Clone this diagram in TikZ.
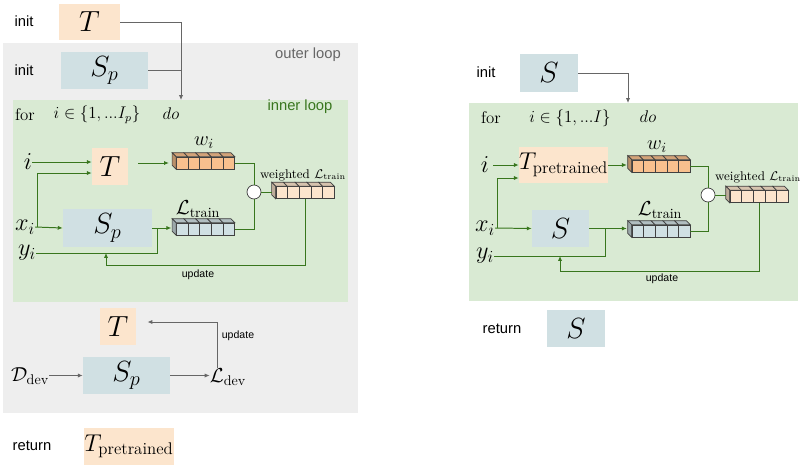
\documentclass[tikz,border=0pt]{standalone}
\usepackage{amsmath}
\usepackage{fontspec}
\setsansfont{Liberation Sans}
\usepackage{tikz}
\usetikzlibrary{positioning,calc,arrows.meta}

\definecolor{tpeach}{HTML}{FCE5CD}
\definecolor{sblue}{HTML}{D0E0E3}
\definecolor{innerbg}{HTML}{D9EAD3}
\definecolor{outerbg}{HTML}{EEEEEE}
\definecolor{lgreen}{HTML}{38761D}
\definecolor{kgrey}{HTML}{666666}
\definecolor{torange}{HTML}{F8C08E}
\definecolor{tedge}{HTML}{404040}

\tikzset{
  box/.style={inner sep=0pt, minimum height=0.925cm},
  tbox/.style={box, fill=tpeach},
  sbox/.style={box, fill=sblue},
  gline/.style={draw=lgreen, line width=0.7pt},
  garrow/.style={gline, -{Latex[length=3.5pt,width=3pt]}},
  kline/.style={draw=kgrey, line width=0.6pt},
  karrow/.style={kline, -{Latex[length=3.5pt,width=3pt]}},
  tensor/.style={draw=tedge, line width=0.5pt, minimum width=1.45cm,
    minimum height=0.3cm, inner sep=0pt},
  mulnode/.style={circle, draw=tedge, fill=white, line width=0.5pt,
    minimum size=0.35cm, inner sep=0pt},
  sanslabel/.style={font=\sffamily\fontsize{10.5}{12}\selectfont},
  updatelabel/.style={font=\sffamily\fontsize{7.5}{9}\selectfont},
  looplabel/.style={font=\sffamily\fontsize{10.5}{12}\selectfont},
  mathlabel/.style={font=\LARGE, inner sep=0pt},
}

% top and left faces of a tensor drawn as a row of cells
\newcommand\tensorfaces[2]{%
  \foreach \k [evaluate=\k as \ka using \k/5, evaluate=\k as \kb using (\k+1)/5] in {0,...,4}{%
    \filldraw[draw=tedge, line width=0.5pt, fill=#2!85!black]
      ($(#1.north west)!\ka!(#1.north east)$) -- ++(-4,-4)
      -- ($(#1.north west)!\kb!(#1.north east)+(-4,-4)$)
      -- ($(#1.north west)!\kb!(#1.north east)$) -- cycle;
    \draw[draw=tedge, line width=0.5pt]
      ($(#1.south west)!\ka!(#1.south east)$) -- ($(#1.north west)!\ka!(#1.north east)$);
  }%
  \filldraw[draw=tedge, line width=0.5pt, fill=#2!75!black]
    (#1.north west) -- ++(-4,-4) -- ($(#1.south west)+(-4,-4)$) -- (#1.south west) -- cycle;
}

\begin{document}
\begin{tikzpicture}[x=0.025cm, y=-0.025cm]
  \useasboundingbox (0,0) rectangle (800,467);

  % left: outer and inner loop
  \fill[outerbg] (3,43) rectangle (358,413);
  \fill[innerbg] (13,100) rectangle (348,302);
  \node[sanslabel] (initTL) at (24,21) {init};
  \node[tbox, minimum width=1.525cm, minimum height=0.9cm] (Tinit) at (89.5,22) {\huge$T$};
  \node[looplabel, text=kgrey] (outerlbl) at (308,55) {outer loop};
  \node[sanslabel] (initSL) at (24,70) {init};
  \node[sbox, minimum width=2.175cm] (Spinit) at (104.5,70.5) {\huge$S_p$};
  \coordinate (inL) at (181,100);
  \draw[karrow] (Tinit.east) -| (inL);
  \draw[kline] (Spinit.east) -- (Spinit.east -| inL);

  \node[looplabel, text=lgreen] (innerlblL) at (300,107) {inner loop};
  \node (forL) at (25,115) {\large for};
  \node (rangeL) at (97,115) {\large$i \in \{1, ...I_p\}$};
  \node (doL) at (171,114) {\large$do$};

  \node[mathlabel] (iL) at (28,162) {$i$};
  \node[mathlabel] (xiL) at (25,227) {$x_i$};
  \node[mathlabel] (yiL) at (27,253) {$y_i$};
  \node[tbox, minimum width=0.9cm] (TL) at (110,166.5) {\huge$T$};
  \node[sbox, minimum width=2.225cm, minimum height=0.95cm] (SpL) at (107.5,228) {\huge$S_p$};
  \node[tensor, fill=torange] (wL) at (205.5,163) {};
  \tensorfaces{wL}{torange}
  \node[font=\Large] (wlblL) at (204,143) {$w_i$};
  \node[tensor, fill=sblue] (LtL) at (205.5,229) {};
  \tensorfaces{LtL}{sblue}
  \node[font=\Large] (LtlblL) at (198,209) {$\mathcal{L}_{\text{train}}$};
  \node[mulnode] (mulL) at (254,192) {};
  \node[tensor, fill=tpeach] (wtL) at (305,192.5) {};
  \tensorfaces{wtL}{tpeach}
  \node[font=\small] (wtlblL) at (303,175) {weighted $\mathcal{L}_{\text{train}}$};

  \draw[garrow] (iL.east) -- (TL.west |- iL);
  \draw[garrow] ($(xiL.east)+(2,0)$) |- ($(TL.west)+(0,6.5)$);
  \draw[garrow] (xiL.east) -- (SpL.west);
  \draw[garrow, shorten <=0.25cm, shorten >=0.18cm] (TL.east |- wL) -- (wL.west);
  \draw[garrow, shorten >=0.12cm] (SpL.east) -- (SpL.east -| LtL.west);
  \draw[gline] (yiL.east) -| ($(SpL.east)+(5,0)$);
  \draw[gline] (wL.east) -| (mulL.north);
  \draw[gline] (LtL.east) -| (mulL.south);
  \draw[gline, shorten >=0.1cm] (mulL.east) -- (mulL.east -| wtL.west);
  \coordinate (updL) at (106,265);
  \draw[garrow] (wtL.south) |- (updL) -- (updL |- yiL);
  \node[updatelabel] (updlblL) at (198,275) {update};

  % left: dev step
  \node[tbox, minimum width=0.9cm] (TB) at (118,326.5) {\huge$T$};
  \node[font=\Large, inner sep=0pt] (Ddev) at (30,376) {$\mathcal{D}_{\text{dev}}$};
  \node[sbox, minimum width=2.175cm] (SpB) at (126.5,375.5) {\huge$S_p$};
  \node[font=\Large, inner sep=0pt] (Ldev) at (228,377) {$\mathcal{L}_{\text{dev}}$};
  \draw[karrow] (Ddev.east |- SpB) -- (SpB.west);
  \draw[karrow] (SpB.east) -- (Ldev.west |- SpB);
  \coordinate (upB) at (217,322);
  \draw[karrow, shorten >=0.28cm] (Ldev.north -| upB) -- (upB) -- (TB.east |- upB);
  \node[updatelabel] (updlblB) at (238,336) {update};

  \node[sanslabel] (retL) at (32,446) {return};
  \node[tbox, minimum width=2.2cm] (Tpre) at (129,446.5) {\LARGE$T_{\text{pretrained}}$};

  % right: single loop
  \fill[innerbg] (469,103) rectangle (798,301);
  \node[sanslabel] (initR) at (486,72) {init};
  \node[sbox, minimum width=1.45cm] (Sinit) at (549,73) {\huge$S$};
  \coordinate (inR) at (628,103);
  \draw[karrow] (Sinit.east) -| (inR);

  \node (forR) at (491,118) {\large for};
  \node (rangeR) at (570,118) {\large$i \in \{1, ...I\}$};
  \node (doR) at (648,117) {\large$do$};

  \node[mathlabel] (iR) at (485,165) {$i$};
  \node[mathlabel] (xiR) at (485,228) {$x_i$};
  \node[mathlabel] (yiR) at (485,256) {$y_i$};
  \node[tbox, minimum width=2.175cm, minimum height=0.9cm] (TR) at (563.5,165) {\LARGE$T_{\text{pretrained}}$};
  \node[sbox, minimum width=1.425cm] (SR) at (560.5,228.5) {\huge$S$};
  \node[tensor, fill=torange] (wR) at (661,166) {};
  \tensorfaces{wR}{torange}
  \node[font=\Large] (wlblR) at (657,147) {$w_i$};
  \node[tensor, fill=sblue] (LtR) at (661,231) {};
  \tensorfaces{LtR}{sblue}
  \node[font=\Large] (LtlblR) at (660,210) {$\mathcal{L}_{\text{train}}$};
  \node[mulnode] (mulR) at (708,195) {};
  \node[tensor, fill=tpeach] (wtR) at (759,196.5) {};
  \tensorfaces{wtR}{tpeach}
  \node[font=\small] (wtlblR) at (758,177) {weighted $\mathcal{L}_{\text{train}}$};

  \draw[garrow, shorten <=0.1cm] (iR.east) -- (TR.west |- iR);
  \draw[garrow] ($(xiR.east)+(2,0)$) |- ($(TR.west)+(0,13)$);
  \draw[garrow] (xiR.east) -- (SR.west);
  \draw[garrow, shorten >=0.12cm] (TR.east) -- (TR.east -| wR.west);
  \draw[garrow, shorten >=0.12cm] (SR.east) -- (SR.east -| LtR.west);
  \draw[gline] (yiR.east) -| ($(SR.east)+(16,0)$);
  \draw[gline] (wR.east) -| (mulR.north);
  \draw[gline] (LtR.east) -| (mulR.south);
  \draw[gline, shorten >=0.1cm] (mulR.east) -- (mulR.east -| wtR.west);
  \coordinate (updR) at (560,271);
  \draw[garrow] (wtR.south) |- (updR) -- (updR |- yiR);
  \node[updatelabel] (updlblR) at (662,279) {update};

  \node[sanslabel] (retR) at (502,329) {return};
  \node[sbox, minimum width=1.45cm] (Sret) at (576,328.5) {\huge$S$};
\end{tikzpicture}
\end{document}
